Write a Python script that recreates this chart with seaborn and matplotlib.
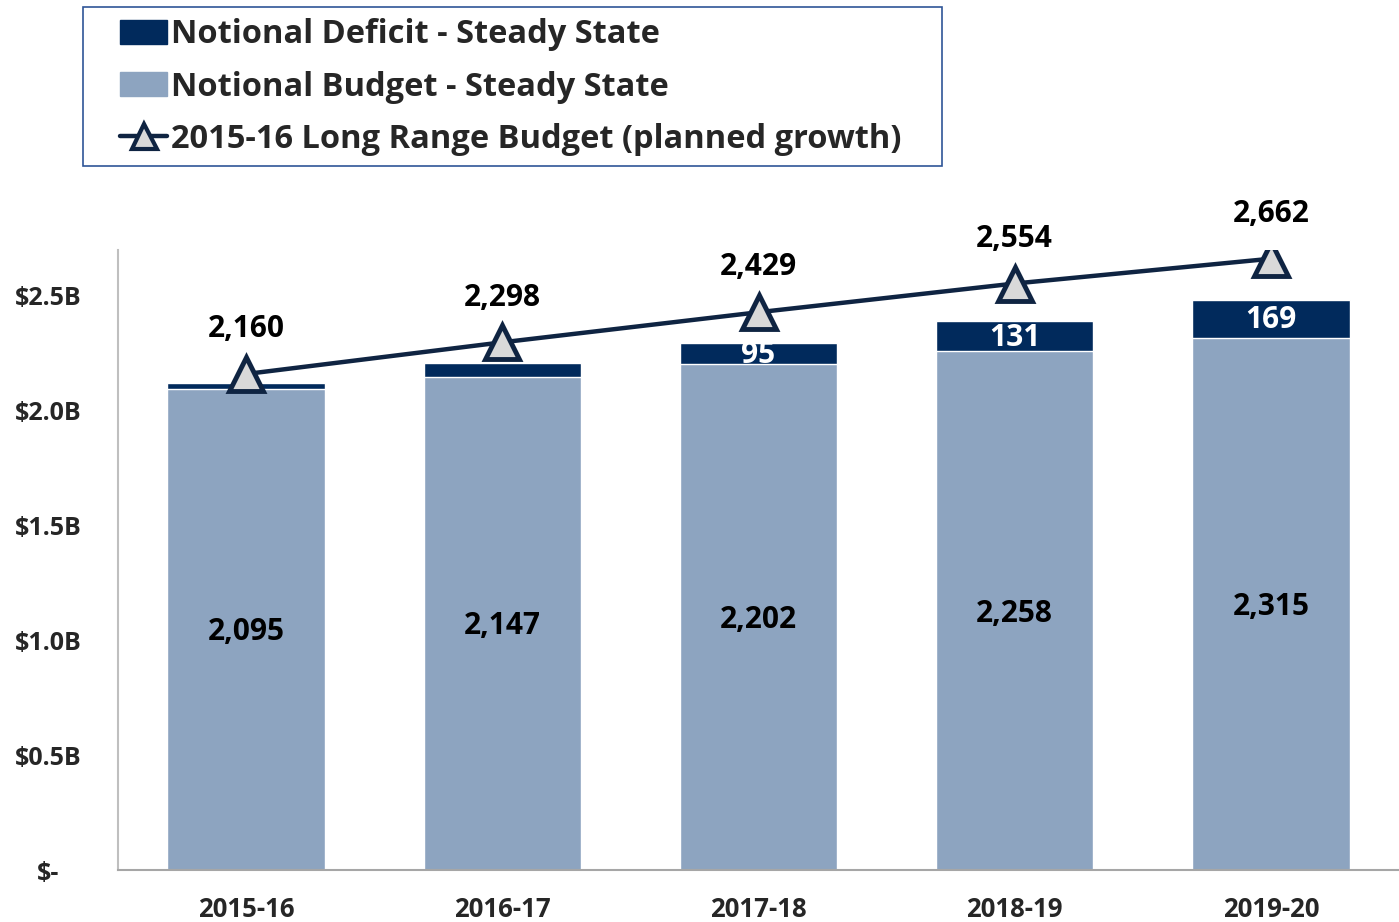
"""
Notional budget vs. long range budget, 2015-16 to 2019-20.
"""

import numpy as np
import pandas as pd
import matplotlib
matplotlib.use("Agg")
import matplotlib.pyplot as plt
import seaborn as sns
from matplotlib.patches import Patch, Rectangle
from matplotlib.lines import Line2D

# Data ($ millions)
years = ["2015-16", "2016-17", "2017-18", "2018-19", "2019-20"]
budget = [2095, 2147, 2202, 2258, 2315]
deficit = [25, 60, 95, 131, 169]
long_range = [2160, 2298, 2429, 2554, 2662]
y_ticks = [0, 500, 1000, 1500, 2000, 2500]
y_labels = ["$-", "$0.5B", "$1.0B", "$1.5B", "$2.0B", "$2.5B"]

DARK = "#012A5C"
LIGHT = "#8DA4C0"
LINE = "#0F2442"
MARKER_FACE = "#D9D9D9"
W, H = 1399, 922

sns.set_theme(style="white")
plt.rcParams["font.family"] = ["Open Sans", "DejaVu Sans"]
plt.rcParams["font.weight"] = "bold"

df = pd.DataFrame({"year": years, "budget": budget, "deficit": deficit,
                   "long_range": long_range})
df["total"] = df["budget"] + df["deficit"]

fig = plt.figure(figsize=(W / 100, H / 100), dpi=100)
ax = fig.add_axes([118 / W, 1 - 870 / H, 1 - 118 / W, 620 / H])

# stacked bars: draw totals in dark, then budget on top in light
sns.barplot(data=df, x="year", y="total", color=DARK, saturation=1,
            width=0.615, ax=ax, errorbar=None)
sns.barplot(data=df, x="year", y="budget", color=LIGHT, saturation=1,
            width=0.615, ax=ax, errorbar=None)

# long range budget line
xpos = np.arange(len(years))
sns.lineplot(x=xpos, y=df["long_range"], ax=ax, color=LINE, lw=3.2,
             marker="^", markersize=24, markerfacecolor=MARKER_FACE,
             markeredgecolor=LINE, markeredgewidth=3.5, zorder=5)

# labels
for i, row in df.iterrows():
    ax.text(i, row["budget"] / 2 - 12, f"{row['budget']:,}", ha="center",
            va="center", fontsize=21.5, fontweight="bold", color="black")
    ax.text(i, row["long_range"] + 195, f"{row['long_range']:,}",
            ha="center", va="center", fontsize=21.5, fontweight="bold",
            color="black")
    if row["deficit"] > 80:
        ax.text(i, row["budget"] + row["deficit"] / 2 - 5, f"{row['deficit']:,}",
                ha="center", va="center", fontsize=21.5, fontweight="bold",
                color="white", zorder=6)

ax.set_ylim(0, 2700)
ax.set_xlim(-0.5, 4.48)
ax.set_yticks(y_ticks)
ax.set_yticklabels(y_labels, fontsize=18, fontweight="bold")
ax.set_xticks(xpos)
ax.set_xticklabels(years, fontsize=18.5, fontweight="bold")
ax.set_xlabel("")
ax.set_ylabel("")
ax.tick_params(axis="y", length=0, pad=50)
ax.tick_params(axis="x", length=0, pad=19)
for lbl in ax.get_yticklabels():
    lbl.set_horizontalalignment("center")

# minor ticks at category boundaries on the x axis
ax.set_xticks(np.arange(len(years) + 1) - 0.5, minor=True)
ax.tick_params(axis="x", which="minor", length=9, width=1.2, color="#A6A6A6",
               direction="out")

for side in ["top", "right"]:
    ax.spines[side].set_visible(False)
ax.spines["left"].set_color("#BFBFBF")
ax.spines["left"].set_linewidth(1.5)
ax.spines["bottom"].set_color("#A6A6A6")
ax.spines["bottom"].set_linewidth(1.5)

handles = [
    Patch(facecolor=DARK, edgecolor=DARK),
    Patch(facecolor=LIGHT, edgecolor=LIGHT),
    Line2D([0], [0], color=LINE, lw=3.2, marker="^", markersize=18,
           markerfacecolor=MARKER_FACE, markeredgecolor=LINE,
           markeredgewidth=3),
]
labels = ["Notional Deficit - Steady State", "Notional Budget - Steady State",
          "2015-16 Long Range Budget (planned growth)"]
leg = fig.legend(handles, labels, loc="upper left",
                 bbox_to_anchor=(120 / W, 1 - 18 / H),
                 prop={"size": 23.5, "weight": "bold"}, frameon=False,
                 handlelength=1.45, handleheight=0.75,
                 handletextpad=0.1, labelspacing=0.6, borderpad=0,
                 borderaxespad=0)

# legend box
fig.patches.append(Rectangle((83 / W, 1 - 166 / H), 859 / W, 159 / H,
                             transform=fig.transFigure, fill=False,
                             edgecolor="#2F5597", linewidth=1.2))

fig.savefig("out.png", dpi=100)
